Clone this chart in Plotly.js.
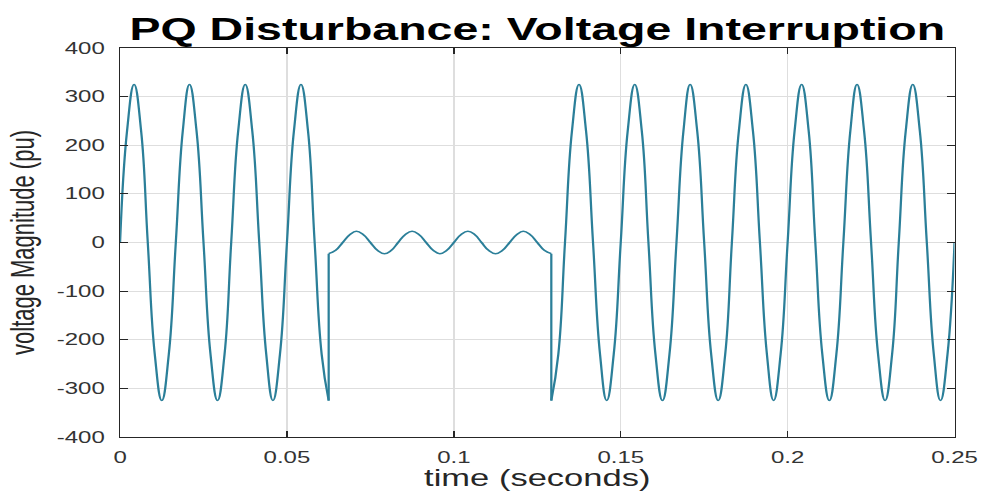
<!DOCTYPE html>
<html>
<head>
<meta charset="utf-8">
<script src="https://cdn.plot.ly/plotly-3.0.1.min.js"></script>
<style>
  html, body { margin: 0; padding: 0; background: #ffffff; overflow: hidden; }
  #wrap { width: 986px; height: 491px; overflow: hidden; }
  #chart { width: 657px; height: 491px; transform: scaleX(1.5008); transform-origin: 0 0; }
</style>
</head>
<body>
<div id="wrap"><div id="chart"></div></div>
<script>
// ---- data (time in seconds, voltage) ----
// before the interruption
const timeBefore = [0, 0.0021, 0.0042, 0.0063, 0.0083, 0.0104, 0.0125, 0.0146, 0.0167, 0.0188,
  0.0208, 0.0229, 0.025, 0.0271, 0.0292, 0.0313, 0.0333, 0.0354, 0.0375, 0.0396,
  0.0417, 0.0438, 0.0458, 0.0479, 0.05, 0.0521, 0.0542, 0.0563, 0.0583, 0.0604, 0.0625];
const voltBefore = [0, 230, 325, 230, 0, -230, -325, -230, 0, 230,
  325, 230, 0, -230, -325, -230, 0, 230, 325, 230,
  0, -230, -325, -230, 0, 230, 325, 230, 0, -230, -325];

// during the interruption
const timeDuring = [0.0625, 0.0646, 0.0667, 0.0688, 0.0708, 0.0729, 0.075, 0.0771, 0.0792, 0.0813,
  0.0833, 0.0854, 0.0875, 0.0896, 0.0917, 0.0938, 0.0958, 0.0979, 0.1, 0.1021,
  0.1042, 0.1063, 0.1083, 0.1104, 0.1125, 0.1146, 0.1167, 0.1188, 0.1208, 0.1229,
  0.125, 0.1271, 0.1292];
const voltDuring = [-23, -16, 0, 16, 23, 16, 0, -16, -23, -16,
  0, 16, 23, 16, 0, -16, -23, -16, 0, 16,
  23, 16, 0, -16, -23, -16, 0, 16, 23, 16,
  0, -16, -23];

// after the interruption
const timeAfter = [0.1292, 0.1313, 0.1333, 0.1354, 0.1375, 0.1396, 0.1417, 0.1438, 0.1458, 0.1479,
  0.15, 0.1521, 0.1542, 0.1563, 0.1583, 0.1604, 0.1625, 0.1646, 0.1667, 0.1688,
  0.1708, 0.1729, 0.175, 0.1771, 0.1792, 0.1813, 0.1833, 0.1854, 0.1875, 0.1896,
  0.1917, 0.1938, 0.1958, 0.1979, 0.2, 0.2021, 0.2042, 0.2063, 0.2083, 0.2104,
  0.2125, 0.2146, 0.2167, 0.2188, 0.2208, 0.2229, 0.225, 0.2271, 0.2292, 0.2313,
  0.2333, 0.2354, 0.2375, 0.2396, 0.2417, 0.2438, 0.2458, 0.2479, 0.25];
const voltAfter = [-325, -230, 0, 230, 325, 230, 0, -230, -325, -230,
  0, 230, 325, 230, 0, -230, -325, -230, 0, 230,
  325, 230, 0, -230, -325, -230, 0, 230, 325, 230,
  0, -230, -325, -230, 0, 230, 325, 230, 0, -230,
  -325, -230, 0, 230, 325, 230, 0, -230, -325, -230,
  0, 230, 325, 230, 0, -230, -325, -230, 0];

// ticks
const xTickVals = [0, 0.05, 0.1, 0.15, 0.2, 0.25];
const xTickText = ["0", "0.05", "0.1", "0.15", "0.2", "0.25"];
const yTickVals = [-400, -300, -200, -100, 0, 100, 200, 300, 400];
const yTickText = ["-400", "-300", "-200", "-100", "0", "100", "200", "300", "400"];

// ---- styling ----
const lineColor = "#2b7f99";
const lineStyle = { color: lineColor, width: 1.5, shape: "spline", smoothing: 1.3 };

const traces = [
  { x: timeBefore, y: voltBefore, mode: "lines", line: lineStyle, hoverinfo: "skip" },
  { x: timeDuring, y: voltDuring, mode: "lines", line: lineStyle, hoverinfo: "skip" },
  { x: timeAfter, y: voltAfter, mode: "lines", line: lineStyle, hoverinfo: "skip" },
  // switching steps joining the segments
  {
    x: [timeBefore[timeBefore.length - 1], timeDuring[0], null, timeDuring[timeDuring.length - 1], timeAfter[0]],
    y: [voltBefore[voltBefore.length - 1], voltDuring[0], null, voltDuring[voltDuring.length - 1], voltAfter[0]],
    mode: "lines", line: { color: lineColor, width: 1.5 }, hoverinfo: "skip"
  }
];

const fontFam = "'Liberation Sans', Arial, Helvetica, sans-serif";
const axisCommon = {
  showline: true, linecolor: "#262626", linewidth: 1, mirror: "ticks",
  ticks: "inside", tickcolor: "#262626",
  showgrid: true, gridcolor: "#dedede", gridwidth: 1,
  zeroline: false, tickmode: "array",
  tickfont: { family: fontFam, size: 16, color: "#333333" }
};

const layout = {
  width: 657, height: 491,
  margin: { l: 80, r: 21, t: 48, b: 54 },
  paper_bgcolor: "#ffffff", plot_bgcolor: "#ffffff",
  showlegend: false,
  title: {
    text: "<b>PQ Disturbance: Voltage Interruption</b>",
    font: { family: fontFam, size: 31, color: "#000000" },
    x: 0.5, xref: "paper", xanchor: "center",
    y: 1 - 29 / 491, yref: "container", yanchor: "middle"
  },
  xaxis: Object.assign({}, axisCommon, {
    range: [0, 0.25], tickvals: xTickVals, ticktext: xTickText,
    ticklen: 6, ticklabelstandoff: 6,
    title: { text: "time (seconds)", font: { family: fontFam, size: 23, color: "#262626" }, standoff: 6 }
  }),
  yaxis: Object.assign({}, axisCommon, {
    range: [-400, 400], tickvals: yTickVals, ticktext: yTickText,
    ticklen: 5, ticklabelstandoff: 6,
    title: { text: "voltage Magnitude (pu)", font: { family: fontFam, size: 22, color: "#262626" }, standoff: 8 }
  })
};

Plotly.newPlot("chart", traces, layout, { displayModeBar: false, staticPlot: true });
</script>
</body>
</html>
